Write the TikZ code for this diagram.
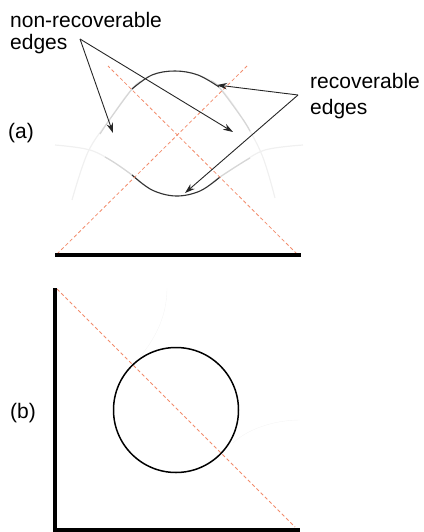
\documentclass[tikz,border=0pt]{standalone}
\usepackage{fontspec}
\setmainfont{Liberation Sans}
\usetikzlibrary{arrows.meta}

\begin{document}
\begin{tikzpicture}[x=1pt,y=-1pt,
  edgelbl/.style={anchor=north west,align=left,inner sep=0pt,font=\fontsize{21}{22}\selectfont},
  panel/.style={anchor=base west,inner sep=0pt,font=\fontsize{21}{22}\selectfont},
  pointer/.style={draw=black!85,line width=0.9pt,-{Stealth[length=10pt,width=6.5pt]}},
  wedge/.style={draw={rgb,255:red,242;green,140;blue,108},line width=0.8pt,dash pattern=on 3.5pt off 2.5pt},
  detector/.style={line width=4pt},
  faint/.style={draw=black!6,line width=1.2pt},
  halffaint/.style={draw=black!16,line width=1.2pt},
  strong/.style={draw=black!80,line width=1.1pt}]
\useasboundingbox (0,0) rectangle (423,532);
\node [edgelbl] (nonrec) at (10,12) {non-recoverable\\edges};
\node [edgelbl,font=\fontsize{21}{26}\selectfont] (rec) at (310,73) {recoverable\\edges};
\node [panel] (lbla) at (8,138) {(a)};
\node [panel] (lblb) at (10,418) {(b)};
\draw [faint] plot [smooth,tension=0.6] coordinates {(72,200) (88,152) (110,119) (132,89) (152,75) (175,71) (198,75) (219,87) (242,118) (262,155) (275,198)};
\draw [faint] plot [smooth,tension=0.6] coordinates {(55,145) (90,150) (115,163) (132,175) (152,190) (176,196) (200,191) (220,177) (240,164) (265,150) (303,145)};
\draw [halffaint] plot [smooth,tension=0.6] coordinates {(100,134) (110,119) (132,89) (140,82)};
\draw [halffaint] plot [smooth,tension=0.6] coordinates {(211,81) (219,87) (242,118) (250,131)};
\draw [halffaint] plot [smooth,tension=0.6] coordinates {(105,157) (115,163) (132,175) (140,182)};
\draw [halffaint] plot [smooth,tension=0.6] coordinates {(212,183) (220,177) (240,164) (250,158)};
\draw [strong] plot [smooth,tension=0.6] coordinates {(132,89) (152,75) (175,71) (198,75) (219,87)};
\draw [strong] plot [smooth,tension=0.6] coordinates {(132,175) (152,190) (176,196) (200,191) (220,177)};
\draw [wedge] (57,254) -- (247,66);
\draw [wedge] (297,254) -- (108,66);
\draw [detector] (55,255) -- (301,255);
\coordinate (nonrecpt) at (80,39);
\coordinate (recpt) at (298,95);
\coordinate (tipl) at (113,133);
\coordinate (tipm) at (233,132);
\coordinate (tiptop) at (217,85);
\coordinate (tipbot) at (185,193);
\draw [pointer] (nonrecpt) -- (tipl);
\draw [pointer] (nonrecpt) -- (tipm);
\draw [pointer] (recpt) -- (tiptop);
\draw [pointer] (recpt) -- (tipbot);
\draw [draw=black!4] (167,288) .. controls (167,320) and (152,342) .. (140,357);
\draw [draw=black!4] (233,443) .. controls (250,427) and (278,420) .. (300,420);
\draw [wedge] (57,289) -- (295,527);
\draw [line width=1.5pt] (176,410) circle [radius=62.5];
\draw [detector] (55,288) -- (55,530) -- (300,530);
\end{tikzpicture}
\end{document}
